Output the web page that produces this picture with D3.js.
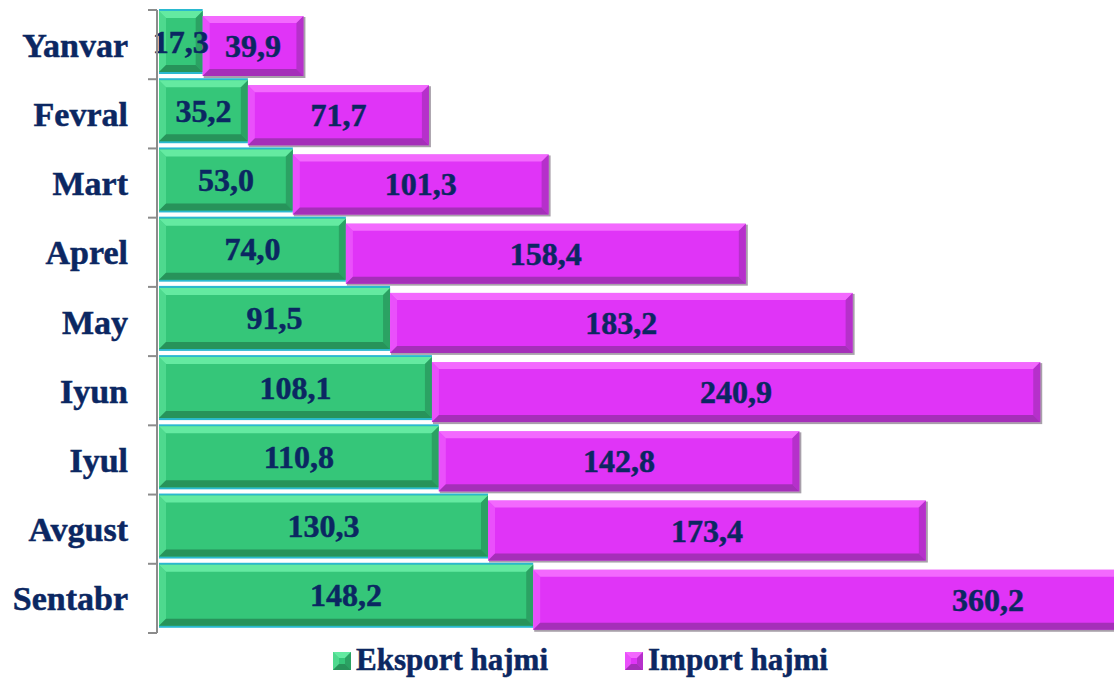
<!DOCTYPE html>
<html>
<head>
<meta charset="utf-8">
<script src="https://cdn.jsdelivr.net/npm/d3@7/dist/d3.min.js"></script>
<style>
  html, body { margin: 0; padding: 0; background: #fff; }
  svg { display: block; }
  text { stroke: #0b2762; stroke-width: 0.5px; }
</style>
</head>
<body>
<svg id="chart" width="1114" height="679"></svg>
<script>

// data
var months = ["Yanvar", "Fevral", "Mart", "Aprel", "May", "Iyun", "Iyul", "Avgust", "Sentabr"];
var eksport = [17.3, 35.2, 53.0, 74.0, 91.5, 108.1, 110.8, 130.3, 148.2];
var importV = [39.9, 71.7, 101.3, 158.4, 183.2, 240.9, 142.8, 173.4, 360.2];
var seriesNames = ["Eksport hajmi", "Import hajmi"];


var fontFamily = "'Liberation Serif', 'Times New Roman', serif";
var textColor = "#0b2762";

var svg = d3.select("#chart");

var x = d3.scaleLinear().domain([0, 380]).range([159, 159 + 380 * 2.525]);
var y = d3.scaleBand().domain(months).range([10, 633]).padding(0);

var fmt = d3.formatLocale({ decimal: ",", thousands: " ", grouping: [3], currency: ["", ""] }).format(".1f");

var styles = [
  { base: "#35c679", light: "#6cf0a8", dark: "#248a55", edge: "#2ab9cf", dy: 1, h: 61 },
  { base: "#e034f7", light: "#f673ff", dark: "#9a2fae", edge: "#9a9a9a", dy: 6, h: 60 }
];


//--------------------------------------
// BEVEL BAR
//--------------------------------------

function _bevelBar(g, bx, by, bw, bh, st, b) {

  var bar = g.append("g");

  if (st.edge === "#9a9a9a") {
    bar.append("rect").attr("x", bx + 1).attr("y", by + 1).attr("width", bw + 1).attr("height", bh + 1)
      .attr("fill", "#a8a0aa");
  } else {
    bar.append("rect").attr("x", bx).attr("y", by - 2).attr("width", bw).attr("height", bh + 4)
      .attr("fill", st.edge);
  }

  bar.append("rect").attr("x", bx).attr("y", by).attr("width", bw).attr("height", bh)
    .attr("fill", st.base);

  var b2 = Math.min(b, bw / 2);

  // top
  bar.append("polygon")
    .attr("points", [[bx, by], [bx + bw, by], [bx + bw - b2, by + b], [bx + b2, by + b]].join(" "))
    .attr("fill", st.light).attr("opacity", 0.85);
  // left
  bar.append("polygon")
    .attr("points", [[bx, by], [bx + b2, by + b], [bx + b2, by + bh - b], [bx, by + bh]].join(" "))
    .attr("fill", st.light).attr("opacity", 0.45);
  // right
  bar.append("polygon")
    .attr("points", [[bx + bw, by], [bx + bw, by + bh], [bx + bw - b2, by + bh - b], [bx + bw - b2, by + b]].join(" "))
    .attr("fill", st.dark).attr("opacity", 0.6);
  // bottom
  bar.append("polygon")
    .attr("points", [[bx, by + bh], [bx + bw, by + bh], [bx + bw - b2, by + bh - b], [bx + b2, by + bh - b]].join(" "))
    .attr("fill", st.dark).attr("opacity", 0.85);

  return bar;
}


//--------------------------------------
// BARS
//--------------------------------------

var rows = months.map(function (m, i) {
  return { month: m, vals: [eksport[i], importV[i]] };
});

var barsG = svg.append("g");
var labelsG = svg.append("g");

rows.forEach(function (row) {

  var start = 0;

  row.vals.forEach(function (v, s) {
    var st = styles[s];
    var x0 = x(start), x1 = x(start + v);
    var by = y(row.month) + st.dy;

    _bevelBar(barsG, x0, by, x1 - x0, st.h, st, 7);

    // labels go in their own group so they sit above the next segment
    labelsG.append("text")
      .attr("x", (x0 + x1) / 2)
      .attr("y", by + st.h / 2 + 11)
      .attr("text-anchor", "middle")
      .attr("font-family", fontFamily)
      .attr("font-weight", "bold")
      .attr("font-size", 32)
      .attr("fill", textColor)
      .text(fmt(v));

    start += v;
  });

});


//--------------------------------------
// AXIS
//--------------------------------------

var axisG = svg.append("g").attr("transform", "translate(157,0)");

axisG.append("line")
  .attr("x1", 0).attr("x2", 0).attr("y1", y.range()[0]).attr("y2", y.range()[1])
  .attr("stroke", "#8c8c8c").attr("stroke-width", 2);

axisG.selectAll("line.tick")
  .data(months.concat(["end"]))
  .enter().append("line")
  .attr("class", "tick")
  .attr("x1", -9).attr("x2", 0)
  .attr("y1", function (d, i) { return y.range()[0] + i * y.step(); })
  .attr("y2", function (d, i) { return y.range()[0] + i * y.step(); })
  .attr("stroke", "#8c8c8c").attr("stroke-width", 2);

svg.append("g").selectAll("text")
  .data(months)
  .enter().append("text")
  .attr("x", 128)
  .attr("y", function (d) { return y(d) + y.bandwidth() / 2 + 12; })
  .attr("text-anchor", "end")
  .attr("font-family", fontFamily)
  .attr("font-weight", "bold")
  .attr("font-size", 34)
  .attr("fill", textColor)
  .text(function (d) { return d; });


//--------------------------------------
// LEGEND
//--------------------------------------

var legendX = [333, 625];

seriesNames.forEach(function (name, s) {
  var st = styles[s];
  var lg = svg.append("g");
  lg.append("rect").attr("x", legendX[s]).attr("y", 652).attr("width", 18).attr("height", 18).attr("fill", st.dark);
  _bevelBar(lg, legendX[s], 652, 18, 18, { base: st.base, light: st.light, dark: st.dark, edge: "none" }, 6)
    .select("rect").remove();
  lg.append("text")
    .attr("x", legendX[s] + 23)
    .attr("y", 670)
    .attr("font-family", fontFamily)
    .attr("font-weight", "bold")
    .attr("font-size", 31)
    .attr("fill", textColor)
    .text(name);
});

</script>
</body>
</html>
